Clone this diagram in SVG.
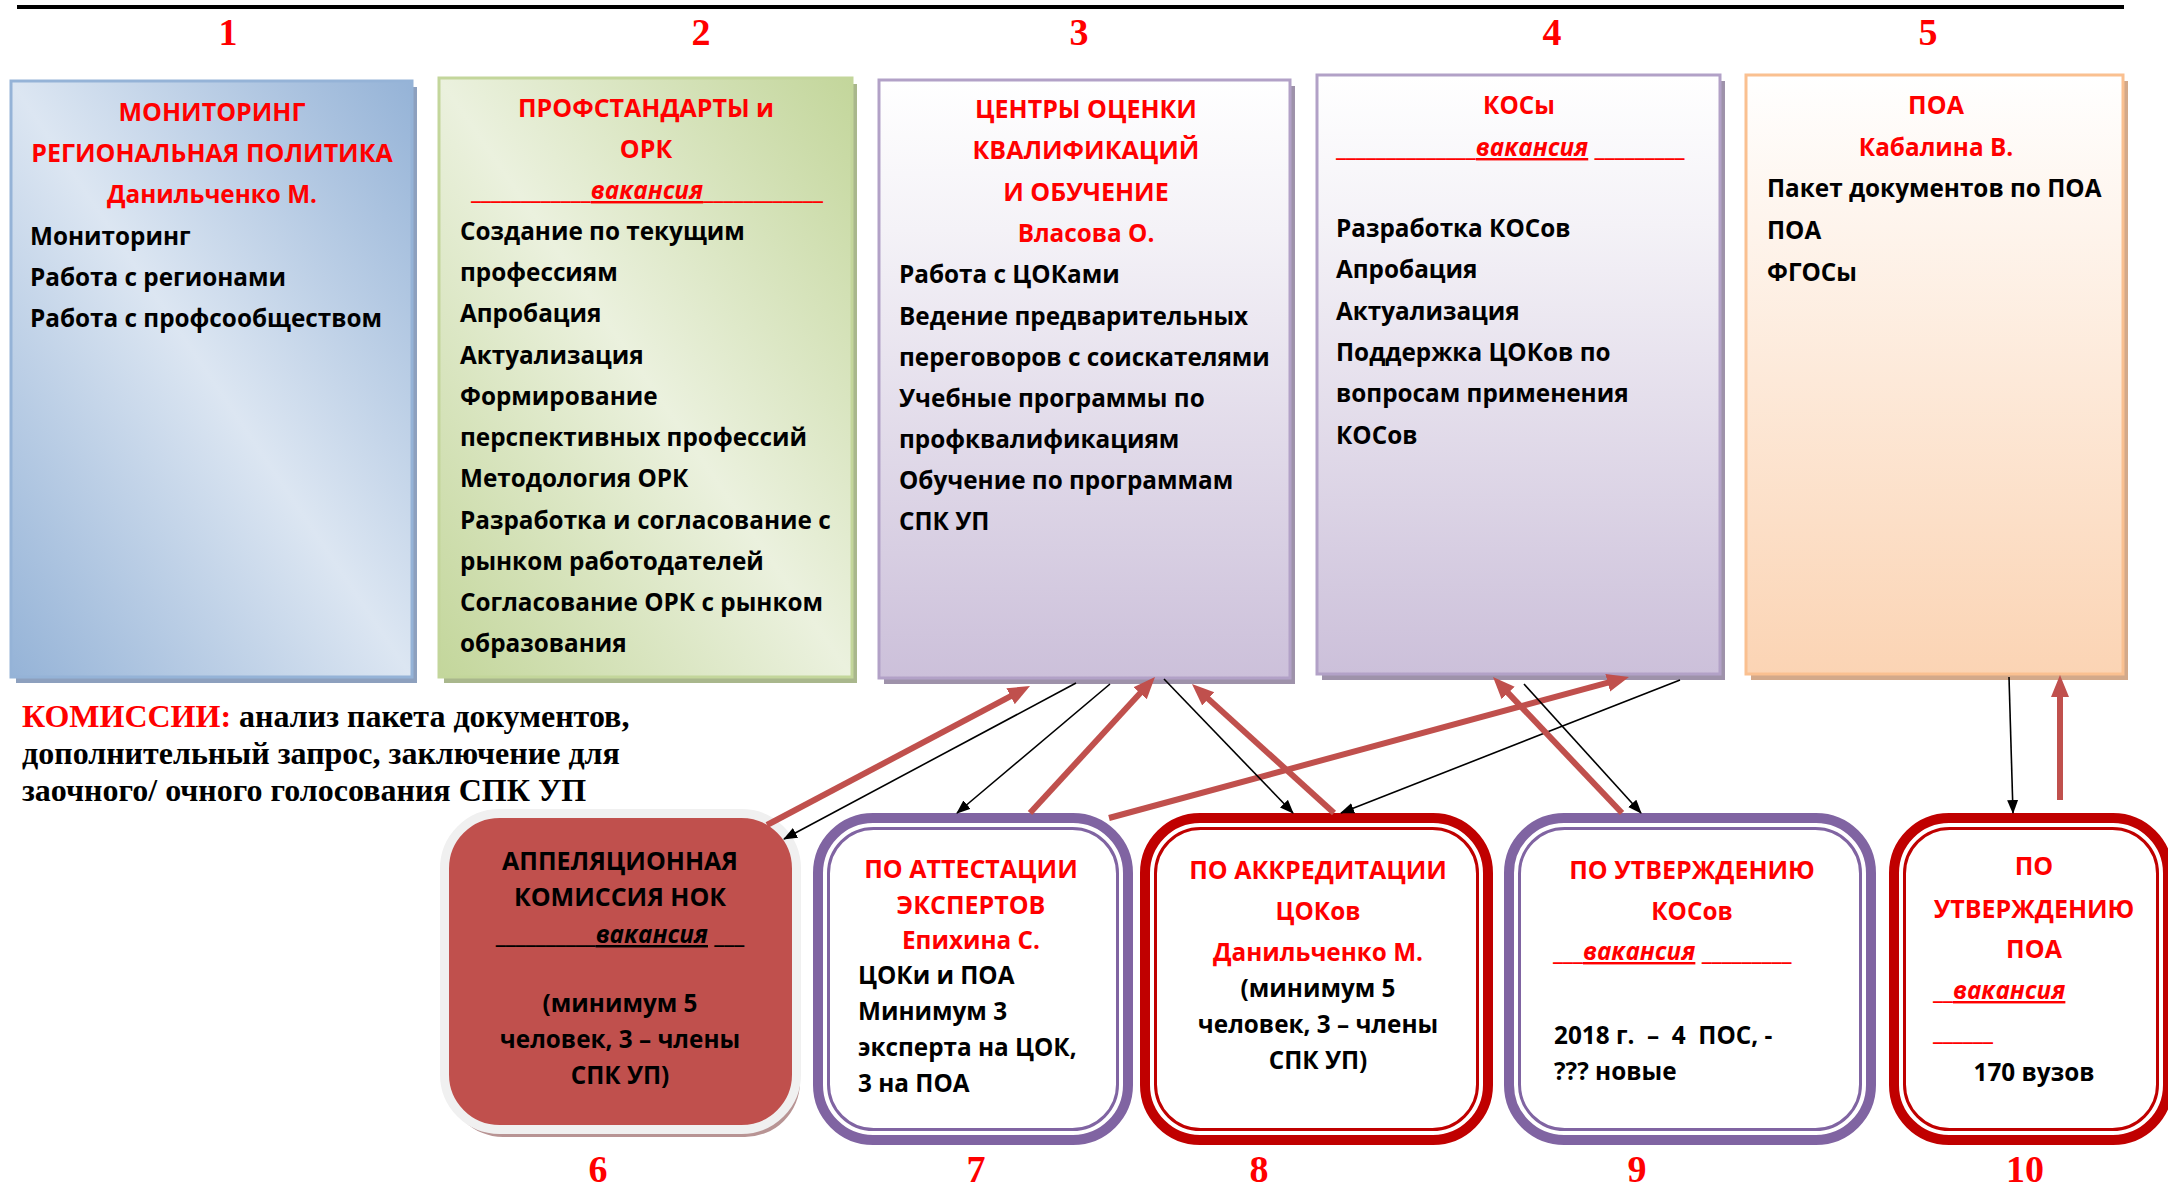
<svg xmlns="http://www.w3.org/2000/svg" width="2168" height="1187" viewBox="0 0 2168 1187">
<defs>
<linearGradient id="gBlue" x1="1" y1="0" x2="0" y2="1"><stop offset="0" stop-color="#95B3D7"/><stop offset="0.5" stop-color="#DCE6F2"/><stop offset="1" stop-color="#95B3D7"/></linearGradient>
<linearGradient id="gGreen" x1="1" y1="0" x2="0" y2="1"><stop offset="0" stop-color="#C3D69B"/><stop offset="0.5" stop-color="#EBF1DE"/><stop offset="1" stop-color="#C3D69B"/></linearGradient>
<linearGradient id="gPurple" x1="0" y1="0" x2="0" y2="1"><stop offset="0" stop-color="#FFFFFF"/><stop offset="0.25" stop-color="#F4F2F7"/><stop offset="1" stop-color="#CCC0DA"/></linearGradient>
<linearGradient id="gOrange" x1="0" y1="0" x2="0" y2="1"><stop offset="0" stop-color="#FFFFFF"/><stop offset="1" stop-color="#FBD4B4"/></linearGradient>
<marker id="ra" viewBox="0 -10 22 20" refX="4" refY="0" markerWidth="22" markerHeight="20" markerUnits="userSpaceOnUse" orient="auto"><path d="M0,-9 L22,0 L0,9 z" fill="#C0504D"/></marker>
<marker id="ba" viewBox="0 -6 14 12" refX="13" refY="0" markerWidth="14" markerHeight="12" markerUnits="userSpaceOnUse" orient="auto"><path d="M0,-5.5 L14,0 L0,5.5 z" fill="#000"/></marker>
</defs>
<style>
.t{font-family:"Open Sans","Noto Sans","DejaVu Sans",sans-serif;font-weight:700;font-size:25px;fill:#000}
.b{font-size:24.3px}
.r{fill:#FF0000}
.c{text-anchor:middle}
.v{font-style:italic;text-decoration:underline}
.num{font-family:"Liberation Serif","Times New Roman",serif;font-weight:700;font-size:38px;fill:#FF0000;text-anchor:middle}
.kom{font-family:"Liberation Serif","Times New Roman",serif;font-weight:700;font-size:32px;fill:#000}
.rl{fill:none;stroke:#C0504D;stroke-width:6;marker-end:url(#ra)}
.bl{fill:none;stroke:#000;stroke-width:1.6;marker-end:url(#ba)}
.op{fill:none;stroke:#8064A2}
.od{fill:none;stroke:#C00000}
</style>
<rect width="2168" height="1187" fill="#FFFFFF"/>
<line x1="17" y1="7" x2="2124" y2="7" stroke="#000" stroke-width="4"/>
<g id="numbers">
<text class="num" x="228" y="45">1</text>
<text class="num" x="701" y="45">2</text>
<text class="num" x="1079" y="45">3</text>
<text class="num" x="1552" y="45">4</text>
<text class="num" x="1928" y="45">5</text>
<text class="num" x="598" y="1182">6</text>
<text class="num" x="976" y="1182">7</text>
<text class="num" x="1259" y="1182">8</text>
<text class="num" x="1637" y="1182">9</text>
<text class="num" x="2025" y="1182">10</text>
</g>
<g id="box1">
<rect x="16" y="87" width="401" height="596" fill="#8DA0BE"/>
<rect x="11" y="81" width="401" height="596" fill="url(#gBlue)" stroke="#95B3D7" stroke-width="3"/>
<text class="t r c" x="212" y="121">МОНИТОРИНГ</text>
<text class="t r c" x="212" y="162">РЕГИОНАЛЬНАЯ ПОЛИТИКА</text>
<text class="t b r c" x="212" y="203">Данильченко М.</text>
<text class="t b" x="30" y="245">Мониторинг</text>
<text class="t b" x="30" y="286">Работа с регионами</text>
<text class="t b" x="30" y="327">Работа с профсообществом</text>
</g>
<g id="box2">
<rect x="444" y="84" width="413" height="599" fill="#A9B78C"/>
<rect x="439" y="78" width="413" height="599" fill="url(#gGreen)" stroke="#C3D69B" stroke-width="3"/>
<text class="t r c" x="646" y="117">ПРОФСТАНДАРТЫ и</text>
<text class="t r c" x="646" y="158">ОРК</text>
<text class="t b r c" x="647" y="199">____________<tspan class="v">вакансия</tspan>____________</text>
<text class="t b" x="460" y="240">Создание по текущим</text>
<text class="t b" x="460" y="281">профессиям</text>
<text class="t b" x="460" y="322">Апробация</text>
<text class="t b" x="460" y="364">Актуализация</text>
<text class="t b" x="460" y="405">Формирование</text>
<text class="t b" x="460" y="446">перспективных профессий</text>
<text class="t b" x="460" y="487">Методология ОРК</text>
<text class="t b" x="460" y="529">Разработка и согласование с</text>
<text class="t b" x="460" y="570">рынком работодателей</text>
<text class="t b" x="460" y="611">Согласование ОРК с рынком</text>
<text class="t b" x="460" y="652">образования</text>
</g>
<g id="box3">
<rect x="884" y="86" width="411" height="598" fill="#9E92AA"/>
<rect x="879" y="80" width="411" height="598" fill="url(#gPurple)" stroke="#B2A1C7" stroke-width="3"/>
<text class="t r c" x="1086" y="118">ЦЕНТРЫ ОЦЕНКИ</text>
<text class="t r c" x="1086" y="159">КВАЛИФИКАЦИЙ</text>
<text class="t r c" x="1086" y="201">И ОБУЧЕНИЕ</text>
<text class="t b r c" x="1086" y="242">Власова О.</text>
<text class="t b" x="899" y="283">Работа с ЦОКами</text>
<text class="t b" x="899" y="325">Ведение предварительных</text>
<text class="t b" x="899" y="366">переговоров с соискателями</text>
<text class="t b" x="899" y="407">Учебные программы по</text>
<text class="t b" x="899" y="448">профквалификациям</text>
<text class="t b" x="899" y="489">Обучение по программам</text>
<text class="t b" x="899" y="530">СПК УП</text>
</g>
<g id="box4">
<rect x="1322" y="81" width="403" height="599" fill="#9E92AA"/>
<rect x="1317" y="75" width="403" height="599" fill="url(#gPurple)" stroke="#B2A1C7" stroke-width="3"/>
<text class="t b r c" x="1519" y="114">КОСы</text>
<text class="t b r" x="1336" y="156">______________<tspan class="v">вакансия</tspan> _________</text>
<text class="t b" x="1336" y="237">Разработка КОСов</text>
<text class="t b" x="1336" y="278">Апробация</text>
<text class="t b" x="1336" y="320">Актуализация</text>
<text class="t b" x="1336" y="361">Поддержка ЦОКов по</text>
<text class="t b" x="1336" y="402">вопросам применения</text>
<text class="t b" x="1336" y="444">КОСов</text>
</g>
<g id="box5">
<rect x="1751" y="81" width="377" height="599" fill="#D3A98A"/>
<rect x="1746" y="75" width="377" height="599" fill="url(#gOrange)" stroke="#FAC090" stroke-width="3"/>
<text class="t r c" x="1936" y="114">ПОА</text>
<text class="t b r c" x="1936" y="156">Кабалина В.</text>
<text class="t b" x="1767" y="197">Пакет документов по ПОА</text>
<text class="t b" x="1767" y="239">ПОА</text>
<text class="t b" x="1767" y="281">ФГОСы</text>
</g>
<g id="commissions">
<text class="kom" x="22" y="727"><tspan fill="#FF0000">КОМИССИИ:</tspan> анализ пакета документов,</text>
<text class="kom" x="22" y="764">дополнительный запрос, заключение для</text>
<text class="kom" x="22" y="801">заочного/ очного голосования СПК УП</text>
</g>
<g id="box6">
<rect x="448" y="819" width="352" height="318" rx="55" fill="#B89494"/>
<rect x="444.5" y="813.5" width="352" height="316" rx="55" fill="#C0504D" stroke="#F0F0F0" stroke-width="9"/>
<text class="t c" x="620" y="870">АППЕЛЯЦИОННАЯ</text>
<text class="t c" x="620" y="906">КОМИССИЯ НОК</text>
<text class="t b c" x="620" y="943">__________<tspan class="v">вакансия</tspan> ___</text>
<text class="t b c" x="620" y="1012">(минимум 5</text>
<text class="t b c" x="620" y="1048">человек, 3 – члены</text>
<text class="t b c" x="620" y="1084">СПК УП)</text>
</g>
<g id="box7">
<rect class="op" x="818" y="818" width="310" height="322" rx="55" stroke-width="10"/>
<rect class="op" x="828.5" y="828.5" width="289" height="301" rx="45" stroke-width="3"/>
<text class="t r c" x="971" y="878">ПО АТТЕСТАЦИИ</text>
<text class="t r c" x="971" y="914">ЭКСПЕРТОВ</text>
<text class="t b r c" x="971" y="949">Епихина С.</text>
<text class="t b" x="858" y="984">ЦОКи и ПОА</text>
<text class="t b" x="858" y="1020">Минимум 3</text>
<text class="t b" x="858" y="1056">эксперта на ЦОК,</text>
<text class="t b" x="858" y="1092">3 на ПОА</text>
</g>
<g id="box8">
<rect class="od" x="1145" y="818" width="343" height="322" rx="55" stroke-width="10"/>
<rect class="od" x="1155.5" y="828.5" width="322" height="301" rx="45" stroke-width="3"/>
<text class="t r c" x="1318" y="879">ПО АККРЕДИТАЦИИ</text>
<text class="t b r c" x="1318" y="920">ЦОКов</text>
<text class="t b r c" x="1318" y="961">Данильченко М.</text>
<text class="t b c" x="1318" y="997">(минимум 5</text>
<text class="t b c" x="1318" y="1033">человек, 3 – члены</text>
<text class="t b c" x="1318" y="1069">СПК УП)</text>
</g>
<g id="box9">
<rect class="op" x="1509" y="818" width="362" height="322" rx="55" stroke-width="10"/>
<rect class="op" x="1519.5" y="828.5" width="341" height="301" rx="45" stroke-width="3"/>
<text class="t r c" x="1692" y="879">ПО УТВЕРЖДЕНИЮ</text>
<text class="t b r c" x="1692" y="920">КОСов</text>
<text class="t b r" x="1553" y="960">___<tspan class="v">вакансия</tspan> _________</text>
<text class="t b" x="1554" y="1044" xml:space="preserve">2018 г.  –  4  ПОС, -</text>
<text class="t b" x="1554" y="1080">??? новые</text>
</g>
<g id="box10">
<rect class="od" x="1894" y="818" width="274" height="322" rx="55" stroke-width="10"/>
<rect class="od" x="1904.5" y="828.5" width="253" height="301" rx="45" stroke-width="3"/>
<text class="t r c" x="2034" y="875">ПО</text>
<text class="t r c" x="2034" y="918">УТВЕРЖДЕНИЮ</text>
<text class="t r c" x="2034" y="958">ПОА</text>
<text class="t b r" x="1933" y="999">__<tspan class="v">вакансия</tspan></text>
<text class="t b r" x="1933" y="1040">______</text>
<text class="t b c" x="2034" y="1081">170 вузов</text>
</g>
<g id="connectors">
<line class="rl" x1="767" y1="825" x2="1014.1" y2="694.4"/>
<line class="bl" x1="1076" y1="683" x2="784" y2="839"/>
<line class="bl" x1="1110" y1="684" x2="957" y2="813"/>
<line class="rl" x1="1030" y1="813" x2="1142.8" y2="690.3"/>
<line class="rl" x1="1109" y1="818" x2="1611.6" y2="681.7"/>
<line class="bl" x1="1164" y1="679" x2="1293" y2="813"/>
<line class="rl" x1="1334" y1="813" x2="1205.3" y2="696.1"/>
<line class="bl" x1="1680" y1="680" x2="1341" y2="813"/>
<line class="rl" x1="1622" y1="813" x2="1505.4" y2="690.1"/>
<line class="bl" x1="1524" y1="684" x2="1641" y2="813"/>
<line class="bl" x1="2009" y1="677" x2="2013" y2="813"/>
<line class="rl" x1="2060" y1="800" x2="2060" y2="693"/>
</g>
</svg>
